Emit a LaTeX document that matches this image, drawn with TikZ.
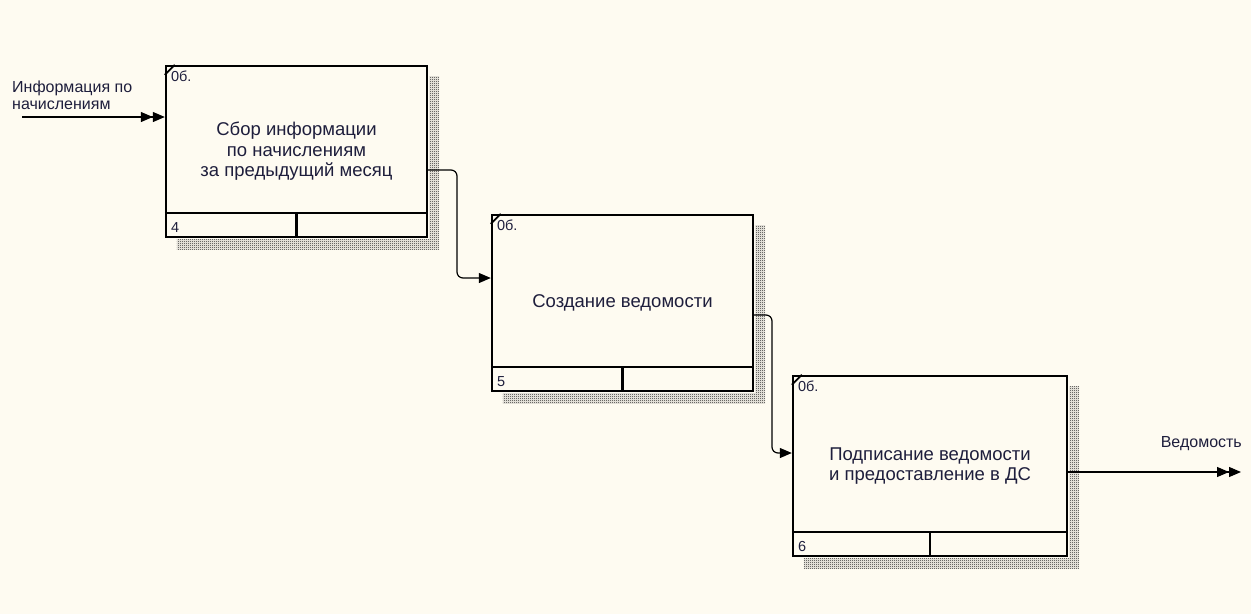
\documentclass[tikz,border=0pt]{standalone}
\usepackage{fontspec}
\setmainfont{Liberation Sans}
\usetikzlibrary{arrows.meta,calc,positioning,patterns}
\definecolor{paper}{HTML}{FEFBF1}
\definecolor{ink}{HTML}{1E1E3C}
\definecolor{hatch}{HTML}{1A1A1A}
\pgfdeclarepatternformonly{checker}{\pgfpointorigin}{\pgfqpoint{2pt}{2pt}}{\pgfqpoint{2pt}{2pt}}{\pgfpathrectangle{\pgfpointorigin}{\pgfqpoint{1pt}{1pt}}\pgfpathrectangle{\pgfqpoint{1pt}{1pt}}{\pgfqpoint{1pt}{1pt}}\pgfusepath{fill}}
\tikzset{funcbox/.style={draw=black,line width=2.4pt,fill=paper,text=ink,align=center,font=\fontsize{18.5}{20.5}\selectfont},
flow/.style={draw=black,line width=1.2pt,rounded corners=6pt,-{Triangle[length=12pt,width=10pt]}},
flowx/.style={flow,-{Triangle[length=12pt,width=10pt]Triangle[length=12pt,width=10pt]}},
hatchshadow/.style={pattern=checker,pattern color=hatch},
cornertag/.style={inner sep=0pt,text=ink,font=\fontsize{14.5}{15}\selectfont},
arrowlbl/.style={inner sep=0pt,text=ink,align=left,font=\fontsize{16}{16.5}\selectfont}}

\begin{document}
\begin{tikzpicture}[x=1pt,y=-1pt]
\fill[paper] (0,0) rectangle (1251,614);
\useasboundingbox (0,0) rectangle (1251,614);
% function boxes
\node[funcbox,minimum width=261pt,minimum height=171pt] (b1) at (296.5,151.5) {Сбор информации\\по начислениям\\за предыдущий месяц};
\node[funcbox,minimum width=261pt,minimum height=176pt] (b2) at (622.5,303) {Создание ведомости};
\node[funcbox,minimum width=274pt,minimum height=180pt] (b3) at (930,466) {Подписание ведомости\\и предоставление в ДС};
\foreach \b/\n in {b1/4,b2/5,b3/6}{
\fill[hatchshadow] ($(\b.north east)+(1.2,12)$) rectangle ($(\b.south east)+(11,11)$);
\fill[hatchshadow] ($(\b.south west)+(12,1.2)$) rectangle ($(\b.south east)+(1.2,11)$);
\draw[line width=2.4pt] ($(\b.south west)+(0,-25)$) -- ($(\b.south east)+(0,-25)$);
\draw[line width=2.4pt] ($(\b.south)+(0,-25)$) -- (\b.south);
\draw[line width=1.8pt] ($(\b.north west)+(0,10)$) -- ($(\b.north west)+(10,0)$);
\node[cornertag,anchor=north west] (\b id) at ($(\b.north west)+(6,6)$) {0б.};
\node[cornertag,anchor=west] (\b no) at ($(\b.south west)+(6,-11)$) {\n};
}
% connectors
\coordinate (infoin) at (22,117);
\coordinate (vedout) at (1241,472);
\draw[flowx] (infoin) -- (b1.west |- infoin);
\node[arrowlbl,anchor=north west] (infolbl) at (12,81) {Информация по\\начислениям};
\draw[flow] (b1.east |- 0,170) -- (457,170) -- (457,278) -- (b2.west |- 0,278);
\draw[flow] (b2.east |- 0,315) -- (772,315) -- (772,453) -- (b3.west |- 0,453);
\draw[flowx] (b3.east |- vedout) -- (vedout);
\node[arrowlbl,anchor=east] (vedlbl) at (1242,444) {Ведомость};
\end{tikzpicture}
\end{document}
